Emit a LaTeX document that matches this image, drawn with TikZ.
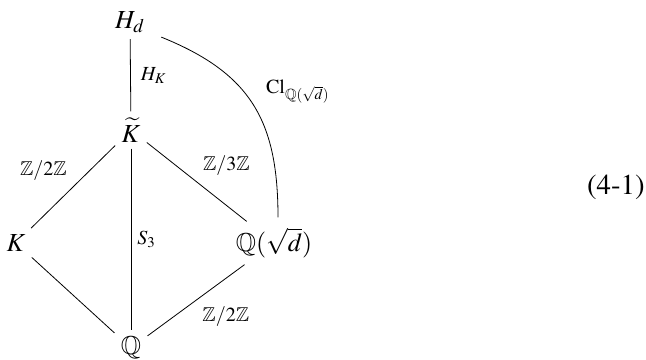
\documentclass[tikz,border=0pt]{standalone}
\usepackage{amssymb}
\usepackage{mathptmx}
\usepackage[T1]{fontenc}
\usetikzlibrary{positioning}
\tikzset{
    field/.style={inner sep=3pt, font=\fontsize{13}{15}\selectfont},
    lbl/.style={font=\normalsize, inner sep=3pt},
    ext/.style={thin, black}
}

\begin{document}
\begin{tikzpicture}[x=0.5pt, y=-0.5pt]
    \useasboundingbox (0,0) rectangle (646,359);

    \node (Hd) [field] at (130, 22) {$H_d$};
    \node (Kt) [field] at (131, 130) {$\widetilde{K}$};
    \node (K) [field] at (16, 243) {$K$};
    \node (Qd) [field] at (274, 243) {$\mathbb{Q}(\sqrt{d})$};
    \node (Q) [field] at (131, 348) {$\mathbb{Q}$};

    \node (eqno) [anchor=east, inner sep=0pt, font=\Large] at (645, 187) {(4-1)};

    \draw [ext] (Hd) -- (Kt) node[midway, right, lbl, xshift=2pt] {$H_K$};
    \draw [ext] (Kt) -- (K) node[midway, above left, lbl] {$\mathbb{Z}/2\mathbb{Z}$};
    \draw [ext] (Kt) -- (Qd) node[midway, above right, lbl] {$\mathbb{Z}/3\mathbb{Z}$};
    \draw [ext] (Kt) -- (Q) node[midway, right, lbl] {$S_3$};
    \draw [ext] (K) -- (Q);
    \draw [ext] (Qd) -- (Q) node[midway, below right, lbl] {$\mathbb{Z}/2\mathbb{Z}$};
    \draw [ext] ([xshift=5pt, yshift=1pt]Hd.south east) to[out=-22, in=90, looseness=1.15]
        node[pos=0.42, right, lbl, xshift=8pt] {$\mathrm{Cl}_{\mathbb{Q}(\sqrt{d})}$} ([xshift=2pt, yshift=2pt]Qd.north);
\end{tikzpicture}
\end{document}
